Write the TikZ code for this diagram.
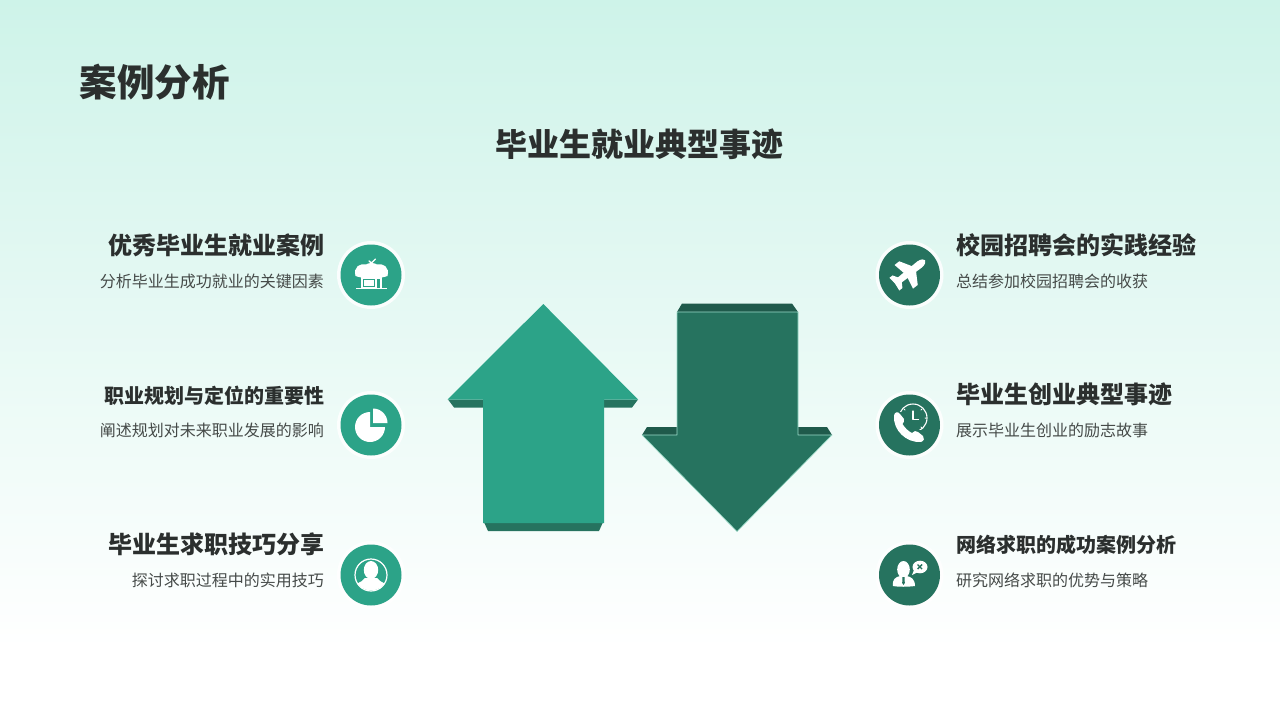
\documentclass[tikz,border=0pt]{standalone}
\usepackage{fontspec}
\setmainfont{Noto Sans CJK SC}
\usetikzlibrary{calc}
\definecolor{topc}{HTML}{CEF3E9}
\definecolor{txt}{HTML}{2B2F2E}
\definecolor{subt}{HTML}{454A48}
\definecolor{gA}{HTML}{2CA388}
\definecolor{gAd}{HTML}{26735F}
\definecolor{gB}{HTML}{26735F}
\definecolor{gBd}{HTML}{1F5A4B}
\definecolor{edge}{HTML}{9ADBC8}
\pgfdeclareverticalshading{bgshade}{100bp}{color(0bp)=(white); color(30bp)=(white); color(75bp)=(topc); color(100bp)=(topc)}
\tikzset{
 maint/.style={anchor=west,inner sep=0pt,font=\fontsize{37.5}{37.5}\selectfont\bfseries,text=txt},
 head/.style={inner sep=0pt,font=\fontsize{32}{32}\selectfont\bfseries,text=txt},
 tl/.style={inner sep=0pt,font=\fontsize{24}{24}\selectfont\bfseries,text=txt},
 ts/.style={inner sep=0pt,font=\fontsize{20}{20}\selectfont\bfseries,text=txt},
 sb/.style={inner sep=0pt,font=\fontsize{16}{16}\selectfont,text=subt},
 halo/.style={circle,inner sep=0pt,outer sep=0pt,minimum size=68pt,fill=white,fill opacity=0.85},
 disc/.style={circle,inner sep=0pt,outer sep=0pt,minimum size=61pt},
 icl/.style={fill=white,draw=none},
 ics/.style={draw=white,fill=none,line cap=round,line join=round}
}
\begin{document}
\begin{tikzpicture}[x=1pt,y=-1pt]
\useasboundingbox (0,0) rectangle (1280,720);
\shade[shading=bgshade] (0,0) rectangle (1280,720);
\node[maint] (title) at (79.5,82) {案例分析};
\node[head] (sub) at (639.5,144) {毕业生就业典型事迹};
% left texts
\node[tl,anchor=east] (l1) at (325,245) {优秀毕业生就业案例};
\node[sb,anchor=east] (l1s) at (324,281) {分析毕业生成功就业的关键因素};
\node[ts,anchor=east] (l2) at (325,396) {职业规划与定位的重要性};
\node[sb,anchor=east] (l2s) at (324,430) {阐述规划对未来职业发展的影响};
\node[tl,anchor=east] (l3) at (325,544) {毕业生求职技巧分享};
\node[sb,anchor=east] (l3s) at (324,580) {探讨求职过程中的实用技巧};
% right texts
\node[tl,anchor=west] (r1) at (956,245) {校园招聘会的实践经验};
\node[sb,anchor=west] (r1s) at (956,281) {总结参加校园招聘会的收获};
\node[tl,anchor=west] (r2) at (956,394) {毕业生创业典型事迹};
\node[sb,anchor=west] (r2s) at (956,430) {展示毕业生创业的励志故事};
\node[ts,anchor=west] (r3) at (956,545) {网络求职的成功案例分析};
\node[sb,anchor=west] (r3s) at (956,580) {研究网络求职的优势与策略};
% circles
\node[halo] (h1) at (371,275) {};
\node[halo] (h2) at (371,425) {};
\node[halo] (h3) at (371,575) {};
\node[halo] (h4) at (909.5,275) {};
\node[halo] (h5) at (909.5,425) {};
\node[halo] (h6) at (909.5,575) {};
\node[disc,fill=gA] (c1) at (371,275) {};
\node[disc,fill=gA] (c2) at (371,425) {};
\node[disc,fill=gA] (c3) at (371,575) {};
\node[disc,fill=gB] (c4) at (909.5,275) {};
\node[disc,fill=gB] (c5) at (909.5,425) {};
\node[disc,fill=gB] (c6) at (909.5,575) {};
% up arrow
\fill[gAd] (448,399.5) -- (454,407.5) -- (483,407.5) -- (483,399.5) -- cycle;
\fill[gAd] (638,399.5) -- (632,407.5) -- (604,407.5) -- (604,399.5) -- cycle;
\fill[gAd] (483,520) -- (488,531) -- (599,531) -- (604,520) -- cycle;
\fill[gA] (543.3,304) -- (638,399.5) -- (604,399.5) -- (604,523) -- (483,523) -- (483,399.5) -- (447.5,399.5) -- cycle;
% down arrow
\fill[gBd] (677,312) -- (682,303.5) -- (792,303.5) -- (798,312) -- cycle;
\fill[gBd] (642,435) -- (647,427) -- (677,427) -- (677,435) -- cycle;
\fill[gBd] (832,435) -- (827,427) -- (798,427) -- (798,435) -- cycle;
\draw[edge,line width=0.6pt,fill=gB,line join=round] (677,312) -- (798,312) -- (798,435) -- (832,435) -- (737,531.5) -- (642,435) -- (677,435) -- cycle;
% icon 1: shop
\path[icl] (355.5,276) .. controls (353,267) and (360,263) .. (366,264.5) .. controls (369,262.5) and (374,262.5) .. (377,264.5) .. controls (383,263) and (390,267) .. (387.5,276) .. controls (380,279) and (363,279) .. (355.5,276) -- cycle;
\path[icl] (361,276) rectangle (382,288);
\path[fill=gA] (362.5,278.5) rectangle (375,287);
\path[icl] (364,280) rectangle (373.5,285.5);
\path[fill=gA] (376.5,279) rectangle (380,288);
\path[icl] (356,287.5) rectangle (387,289);
\draw[ics,line width=1.4pt] (369,261) -- (371.5,263) -- (375.5,259);
% icon 2: pie
\path[icl] (370,427) -- (370,412) arc[start angle=-90,end angle=-360,radius=15] -- cycle;
\path[icl] (373,423) -- (373,408.5) arc[start angle=-90,end angle=0,radius=14.5] -- cycle;
% icon 3: person
\begin{scope}
\clip (371,575) circle[radius=15.5];
\path[icl] (371,570) ellipse[x radius=7.2,y radius=9];
\path[icl] (352,592) .. controls (353,582) and (361,584) .. (365,578) -- (377,578) .. controls (381,584) and (389,582) .. (390,592) -- cycle;
\end{scope}
\draw[ics,line width=1.2pt] (371,575) circle[radius=16];
% icon 4: plane
\begin{scope}[shift={(909.3,272.5)},rotate=38]
\path[icl] (-18,-3) -- (13,-3.8) .. controls (18,-3.6) and (20,-1.2) .. (20,0) .. controls (20,1.2) and (18,3.6) .. (13,3.8) -- (-18,3) -- cycle;
\path[icl] (-4,0) -- (8,0) -- (-1,-15) -- (-7,-15) -- cycle;
\path[icl] (-4,0) -- (8,0) -- (-1,15) -- (-7,15) -- cycle;
\path[icl] (-18,0) -- (-10,0) -- (-15,-8) -- (-19,-8) -- cycle;
\path[icl] (-18,0) -- (-10,0) -- (-15,8) -- (-19,8) -- cycle;
\end{scope}
% icon 5: phone with clock
\draw[ics,line width=1.1pt] (913,418) circle[radius=14];
\draw[ics,line width=1.2pt] (913,411) -- (913,419.5) -- (918.5,419.5);
\draw[ics,line width=1pt] (904,409) -- (905,410) (922,409) -- (921,410) (926,418) -- (925,418) (922,428) -- (921,427);
\path[fill=gB] (893,412) -- (912,412) -- (910,428) -- (925,431) -- (925,443) -- (893,443) -- cycle;
\path[icl] (894,416) .. controls (894,412) and (898,411) .. (900,414) -- (904,419) .. controls (905,421) and (903,423) .. (902.5,424) .. controls (905,428) and (908,431) .. (912,433) .. controls (914,431) and (916,430) .. (918,432) -- (923,436) .. controls (925,438) and (924,441) .. (921,442) .. controls (906,443) and (893,430) .. (894,416) -- cycle;
% icon 6: person + bubble
\path[icl] (903.5,569.5) ellipse[x radius=6.3,y radius=8.5];
\path[icl] (893,586) .. controls (892,579) and (896,577) .. (900,576) -- (907,576) .. controls (911,577) and (915,579) .. (915,586) .. controls (908,587) and (898,587) .. (893,586) -- cycle;
\path[fill=gB] (902.5,577) -- (904.5,577) -- (904.8,583) -- (903.5,585) -- (902.2,583) -- cycle;
\path[icl] (920,567) ellipse[x radius=7.5,y radius=6.3];
\path[icl] (914,570) -- (912,575) -- (918,572) -- cycle;
\draw[gB,line width=1.4pt] (917.5,564.5) -- (922,569) (922,564.5) -- (917.5,569);
\end{tikzpicture}
\end{document}
